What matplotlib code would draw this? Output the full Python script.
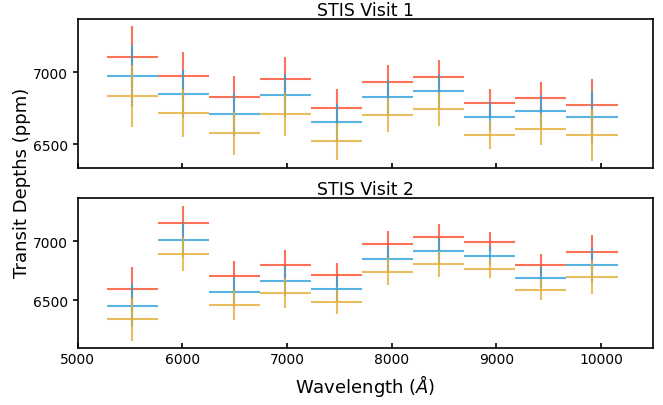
import matplotlib
matplotlib.use("Agg")
import matplotlib.pyplot as plt
import numpy as np

# Wavelength bins (Angstrom)
wave_centers = [5522, 6010, 6498, 6986, 7474, 7962, 8450, 8938, 9426, 9914]
half_width = 244

# STIS Visit 1 transit depths (ppm)
v1_red = [7107, 6976, 6828, 6955, 6753, 6934, 6967, 6784, 6823, 6774]
v1_blue = [6974, 6849, 6707, 6842, 6651, 6828, 6868, 6690, 6730, 6686]
v1_yellow = [6837, 6716, 6575, 6709, 6521, 6702, 6742, 6563, 6605, 6561]
v1_err = [215, 166, 148, 150, 129, 117, 118, 100, 113, 181]

# STIS Visit 2 transit depths (ppm)
v2_red = [6595, 7154, 6705, 6798, 6713, 6972, 7031, 6992, 6798, 6910]
v2_blue = [6454, 7006, 6567, 6665, 6595, 6848, 6913, 6874, 6691, 6798]
v2_yellow = [6340, 6890, 6458, 6559, 6486, 6741, 6806, 6767, 6589, 6696]
v2_err = [182, 144, 127, 125, 98, 113, 112, 80, 90, 140]

titles = ["STIS Visit 1", "STIS Visit 2"]
xticks = [5000, 6000, 7000, 8000, 9000, 10000]
yticks = [6500, 7000]

colors = {"red": "#fc4f30", "blue": "#30a2da", "yellow": "#e5ae38"}

fig = plt.figure(figsize=(6.63, 4.06), dpi=100)
ax1 = fig.add_axes([0.1169, 0.5837, 0.8685, 0.3670])
ax2 = fig.add_axes([0.1169, 0.1416, 0.8685, 0.3675])

panels = [
    (ax1, v1_red, v1_blue, v1_yellow, v1_err, (6333, 7372)),
    (ax2, v2_red, v2_blue, v2_yellow, v2_err, (6102, 7360)),
]

for i, (ax, r, b, yv, e, ylim) in enumerate(panels):
    for vals, c in ((r, "red"), (b, "blue"), (yv, "yellow")):
        ax.errorbar(wave_centers, vals, xerr=half_width, yerr=e,
                    fmt="none", ecolor=colors[c], elinewidth=1.5,
                    capsize=0, alpha=0.8)
    ax.set_xlim(5000, 10500)
    ax.set_ylim(*ylim)
    ax.set_xticks(xticks)
    ax.set_yticks(yticks)
    ax.set_title(titles[i], fontsize=12.5, pad=2)
    ax.tick_params(axis="x", direction="in", length=3.5, width=1.2,
                   labelsize=10)
    ax.tick_params(axis="y", direction="out", length=3.5, width=1.2,
                   labelsize=10)
    for s in ax.spines.values():
        s.set_linewidth(1.2)
    if i == 0:
        ax.tick_params(axis="x", labelbottom=False)

ax2.set_xlabel(r"Wavelength ($\AA$)", fontsize=13)
fig.text(0.033, 0.549, "Transit Depths (ppm)", rotation=90,
         ha="center", va="center", fontsize=13)

fig.savefig("out.png", dpi=100)
